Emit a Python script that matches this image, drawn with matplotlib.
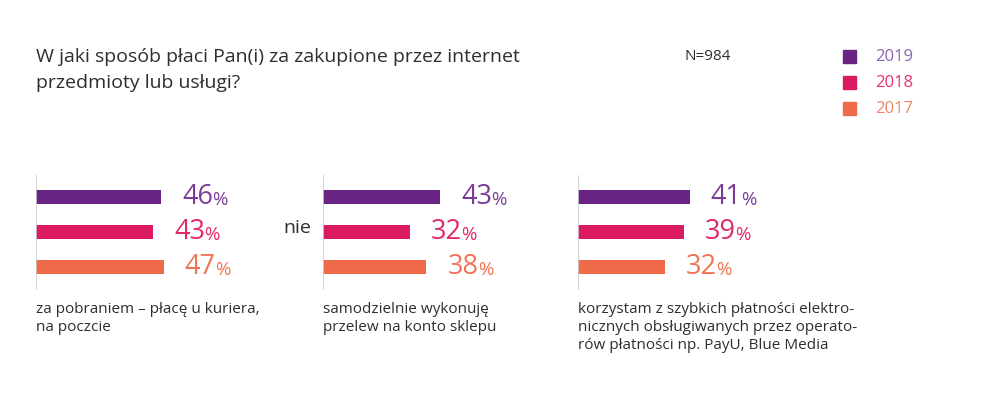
import matplotlib.pyplot as plt

# data
years = ["2019", "2018", "2017"]
categories = [
    "za pobraniem – płacę u kuriera,\nna poczcie",
    "samodzielnie wykonuję\nprzelew na konto sklepu",
    "korzystam z szybkich płatności elektro-\nnicznych obsługiwanych przez operato-\nrów płatności np. PayU, Blue Media",
]
values = [
    [46, 43, 47],
    [43, 32, 38],
    [41, 39, 32],
]
bar_colors = ["#692383", "#db1a62", "#ee6a49"]
label_colors = ["#7b3c98", "#e2286a", "#f07355"]
legend_text_colors = ["#8b63b0", "#e8326a", "#f2826a"]

W, H = 1000, 395
PX_PER_PCT = 2.72
plt.rcParams["font.family"] = ["Open Sans", "DejaVu Sans"]
TXT = "#2e2e2e"

fig = plt.figure(figsize=(W / 100, H / 100), dpi=100)

# title, sample size, legend
fig.text(36 / W, 1 - 57 / H, "W jaki sposób płaci Pan(i) za zakupione przez internet",
         fontsize=14, color=TXT, va="center")
fig.text(36 / W, 1 - 83 / H, "przedmioty lub usługi?",
         fontsize=14, color=TXT, va="center")
fig.text(684 / W, 1 - 57 / H, "N=984", fontsize=11, color=TXT, va="center")
for i, (yr, c, tc) in enumerate(zip(years, bar_colors, legend_text_colors)):
    yy = 57 + i * 26
    fig.patches.append(plt.Rectangle((843 / W, 1 - (yy + 6) / H), 13 / W, 13 / H,
                                     transform=fig.transFigure, color=c))
    fig.text(875 / W, 1 - yy / H, yr, fontsize=12, color=tc, va="center")

# three small bar panels
axis_x = [36, 323, 578]
panel_w = 220
for p, (x0, vals, cat) in enumerate(zip(axis_x, values, categories)):
    ax = fig.add_axes([x0 / W, 1 - 290 / H, panel_w / W, 115 / H])
    ax.barh(range(3), vals, height=0.4, color=bar_colors)
    ax.set_xlim(0, panel_w / PX_PER_PCT)
    ax.set_ylim(2.66, -0.63)
    ax.axis("off")
    ax.axvline(0, color="#cccccc", lw=1.2)
    for i, v in enumerate(vals):
        t = ax.text(v + 21 / PX_PER_PCT, i, str(v), fontsize=19.5, color=label_colors[i],
                    va="center", ha="left")
        ax.annotate("%", xy=(1, 0.08), xycoords=t, xytext=(-0.5, 0), textcoords="offset points",
                    va="bottom", ha="left", fontsize=13.5, color=label_colors[i])
    fig.text(x0 / W, 1 - 302 / H, cat, fontsize=11, color=TXT, va="top",
             linespacing=1.28)

fig.text(283 / W, 1 - 228 / H, "nie", fontsize=14, color=TXT, va="center")

fig.savefig("out.png", dpi=100)
